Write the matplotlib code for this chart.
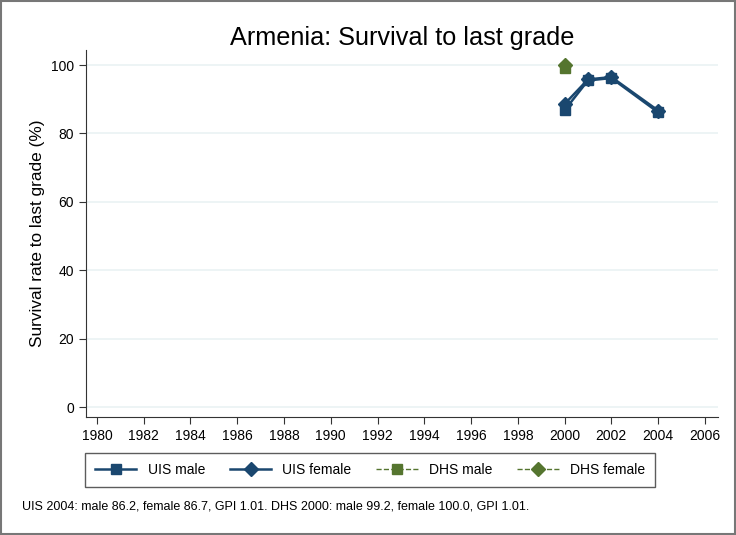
import matplotlib
matplotlib.use("Agg")
import matplotlib.pyplot as plt
from matplotlib.patches import Rectangle

plt.rcParams['font.family'] = ['Liberation Sans', 'DejaVu Sans']

# Data
uis_years = [2000, 2001, 2002, 2004]
uis_male = [86.8, 95.5, 96.2, 86.2]
uis_female = [88.6, 95.8, 96.5, 86.7]
dhs_years = [2000]
dhs_male = [99.2]
dhs_female = [100.0]
x_ticks = list(range(1980, 2007, 2))
y_ticks = [0, 20, 40, 60, 80, 100]

navy = '#1a476f'
green = '#55752f'

fig = plt.figure(figsize=(7.36, 5.35), dpi=100)
ax = fig.add_axes([0.1168, 0.2206, 0.8587, 0.6859])

ax.plot(uis_years, uis_male, color=navy, marker='s', markersize=7, linewidth=1.8, label='UIS male')
ax.plot(uis_years, uis_female, color=navy, marker='D', markersize=7, linewidth=1.8, label='UIS female')
ax.plot(dhs_years, dhs_male, color=green, marker='s', markersize=7, linewidth=1, linestyle='--', label='DHS male')
ax.plot(dhs_years, dhs_female, color=green, marker='D', markersize=7, linewidth=1, linestyle='--', label='DHS female')

ax.set_xlim(1979.53, 2006.56)
ax.set_ylim(-2.9, 104.4)
ax.set_xticks(x_ticks)
ax.set_yticks(y_ticks)
ax.tick_params(labelsize=10, length=5, color='#333333')
ax.yaxis.grid(True, color='#eaf2f3', linewidth=1.2)
ax.set_axisbelow(True)
for s in ['top', 'right']:
    ax.spines[s].set_visible(False)
for s in ['left', 'bottom']:
    ax.spines[s].set_color('#333333')

ax.set_ylabel('Survival rate to last grade (%)', fontsize=12.4)
ax.set_title('Armenia: Survival to last grade', fontsize=18.2, pad=2)

leg = fig.legend(loc='center left', bbox_to_anchor=(0.1155, 0.088, 0.7745, 0.067), mode='expand',
                 ncol=4, fontsize=10, frameon=True, fancybox=False, edgecolor='#333333',
                 handlelength=3, borderaxespad=0, borderpad=0.7)
leg.get_frame().set_linewidth(1)

fig.text(0.03, 0.048, 'UIS 2004: male 86.2, female 86.7, GPI 1.01. DHS 2000: male 99.2, female 100.0, GPI 1.01.',
         fontsize=9)

fig.patches.append(Rectangle((0.002, 0.002), 0.996, 0.996, transform=fig.transFigure,
                             fill=False, edgecolor='#777777', linewidth=1.5))

fig.savefig('out.png', dpi=100)
